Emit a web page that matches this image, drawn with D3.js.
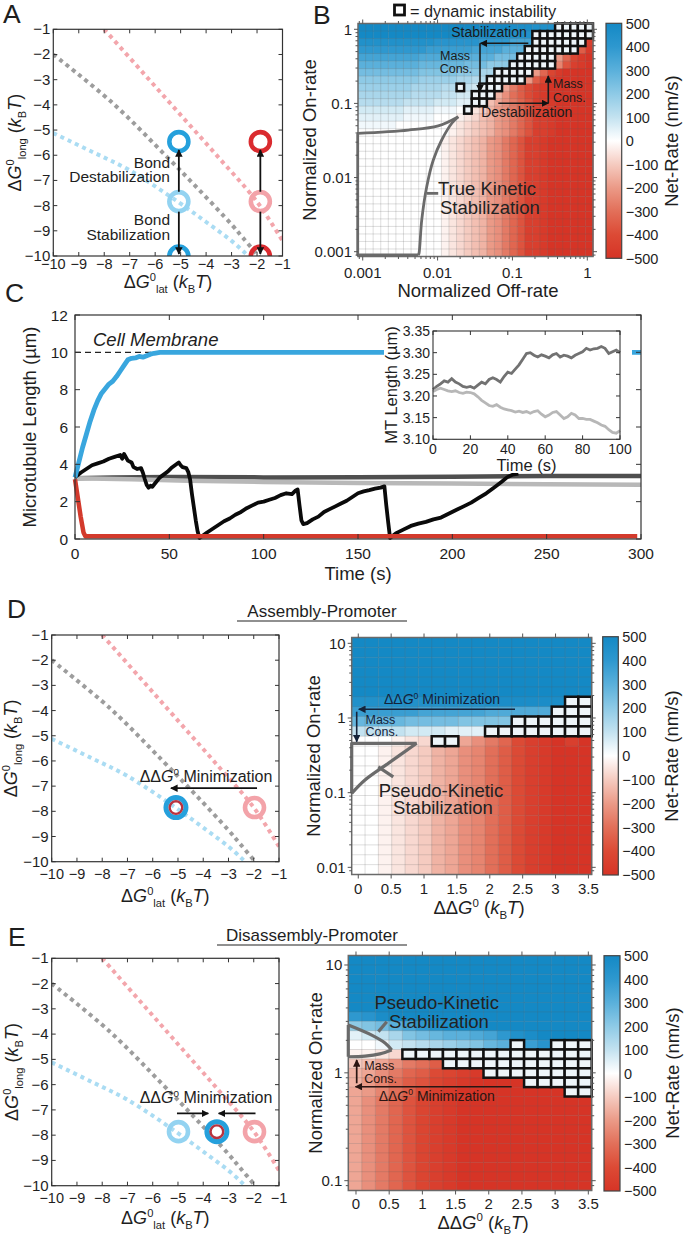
<!DOCTYPE html>
<html><head><meta charset="utf-8">
<script src="https://cdn.jsdelivr.net/npm/d3@7/dist/d3.min.js"></script>
<style>
html,body{margin:0;padding:0;background:#fff;}
svg{display:block;}
text{font-family:"Liberation Sans",Arial,Helvetica,sans-serif;}
</style></head><body>
<svg id="fig" width="684" height="1235" viewBox="0 0 684 1235"></svg>
<script>
// ================= DATA =================
// Energy-landscape panels (A, D-left, E-left)
const energyTicks=[-10,-9,-8,-7,-6,-5,-4,-3,-2,-1];
const redCurve=[[-8,-1],[-6.5,-2.7],[-5,-4.4],[-3.5,-6.1],[-2,-7.85],[-1,-9.4]];
const grayCurve=[[-10,-2],[-7.7,-3.9],[-5.6,-6.0],[-4.25,-7.4],[-3.0,-8.75],[-2.55,-9.28],[-1.9,-10.05]];
const blueCurve=[[-10,-5.12],[-8.5,-5.85],[-7,-6.6],[-5.1,-7.85],[-4,-8.65],[-3,-9.4],[-2.5,-9.85],[-2.3,-10.05]];
const circlesA=[{x:-5.07,y:-5.46,k:"blue"},{x:-5.07,y:-7.84,k:"lblue"},{x:-5.07,y:-10,k:"blue"},
                {x:-1.87,y:-5.46,k:"red"},{x:-1.87,y:-7.84,k:"lred"},{x:-1.87,y:-10,k:"red"}];
const arrowsA=[[-5.07,-7.45,-5.07,-5.79],[-5.07,-8.24,-5.07,-9.92],[-1.87,-7.45,-1.87,-5.79],[-1.87,-8.24,-1.87,-9.92]];
const circlesD=[{x:-1.97,y:-7.85,k:"lred"},{x:-5.08,y:-7.85,k:"both"}];
const arrowsD=[[-1.87,-7.08,-5.28,-7.08]];
const circlesE=[{x:-4.98,y:-7.86,k:"lblue"},{x:-3.46,y:-7.86,k:"both"},{x:-1.97,y:-7.86,k:"lred"}];
const arrowsE=[[-5.04,-7.14,-3.8,-7.14],[-1.93,-7.14,-3.39,-7.14]];

// Panel C
const cTimeTicks=[0,50,100,150,200,250,300];
const cLenTicks=[0,2,4,6,8,10,12];
const blueTrace=[[0,3.3],[2,4.1],[4,4.9],[6,5.6],[8,6.3],[10,6.9],[12,7.4],[14,7.8],[16,8.05],[18,8.3],[20,8.45],[22,8.7],[24,9.0],[26,9.3],[28,9.6],[30,9.68],[32,9.7],[34,9.78],[36,9.74],[38,9.82],[40,9.9],[42,9.95],[45,10],[300,10]];
const redTrace=[[0,3.2],[1.5,2.2],[3,1.2],[4.5,0.35],[5.5,0.15],[298,0.15]];
const blackTrace=[[0,3.3],[3,3.55],[6,3.75],[9,3.95],[12,4.05],[15,4.15],[18,4.3],[21,4.4],[24,4.5],[25,4.3],[26,4.55],[28,4.2],[30,4.1],[31,3.85],[33,3.75],[35,3.8],[36,3.55],[37,3.2],[38,2.9],[39,2.75],[40,2.85],[41,2.8],[43,3.05],[45,3.3],[47,3.45],[49,3.6],[51,3.8],[53,3.95],[55,4.1],[56,3.95],[57,3.85],[59,3.8],[60,3.6],[61,3.2],[62,2.4],[63,1.7],[64,1.0],[65,0.4],[66,0.05],[68,0.2],[70,0.35],[73,0.55],[76,0.75],[79,0.95],[82,1.1],[85,1.3],[88,1.45],[91,1.65],[94,1.8],[97,1.95],[100,2.0],[103,2.1],[106,2.2],[109,2.35],[112,2.45],[115,2.4],[117,2.6],[118,2.65],[119,1.8],[120,1.0],[121,0.8],[123,0.85],[126,1.05],[129,1.2],[132,1.45],[135,1.6],[138,1.75],[141,1.9],[144,2.05],[147,2.25],[150,2.45],[153,2.55],[156,2.62],[159,2.7],[162,2.75],[164,2.82],[165,1.8],[166,0.9],[167,0.05],[170,0.3],[174,0.5],[178,0.7],[182,0.82],[186,0.92],[190,1.05],[194,1.15],[198,1.35],[202,1.55],[206,1.75],[210,1.95],[214,2.2],[218,2.45],[222,2.75],[226,3.05],[229,3.3],[232,3.45],[235,3.5]];
const darkGrayTrace=[[0,3.25],[20,3.3],[50,3.32],[100,3.3],[150,3.31],[200,3.33],[250,3.38],[300,3.37]];
const lightGrayTrace=[[0,3.25],[30,3.2],[60,3.12],[100,3.06],[150,3.0],[200,2.97],[250,2.93],[300,2.9]];
const insetTimeTicks=[0,20,40,60,80,100];
const insetLenTicks=[3.10,3.15,3.20,3.25,3.30,3.35];
const insetTime=[0,2,4,6,8,10,12,14,16,18,20,22,24,26,28,30,32,34,36,38,40,42,44,46,48,50,52,54,56,58,60,62,64,66,68,70,72,74,76,78,80,82,84,86,88,90,92,94,96,98,100];
const insetDark=[3.215,3.222,3.228,3.235,3.232,3.240,3.232,3.228,3.222,3.220,3.222,3.218,3.225,3.232,3.228,3.238,3.242,3.238,3.232,3.245,3.255,3.252,3.262,3.272,3.285,3.298,3.300,3.294,3.290,3.295,3.292,3.288,3.295,3.298,3.290,3.294,3.292,3.288,3.294,3.298,3.302,3.310,3.306,3.309,3.310,3.314,3.310,3.298,3.302,3.306,3.300];
const insetLight=[3.210,3.215,3.218,3.215,3.212,3.210,3.212,3.208,3.206,3.209,3.208,3.205,3.198,3.190,3.184,3.178,3.176,3.180,3.174,3.170,3.168,3.166,3.163,3.165,3.162,3.164,3.160,3.164,3.166,3.158,3.152,3.156,3.162,3.164,3.156,3.148,3.152,3.160,3.156,3.148,3.148,3.146,3.146,3.142,3.138,3.133,3.130,3.122,3.116,3.114,3.120];

// Net-rate colour bar
const cbTicks=[500,400,300,200,100,0,-100,-200,-300,-400,-500];
const cbValues=[-500,-400,-300,-200,-100,-30,0,30,100,200,300,400,500];
const cbColors=["#d63426","#dc4a35","#e26f59","#eb9a87","#f5cbc0","#fcefec","#ffffff","#eef7fb","#c3e2f0","#8ecae6","#5ab0db","#2e98cf","#1489c5"];
// Heat-map cell codes: 'A'..'T' = +25..+500, 'a'..'t' = -25..-500, '0' = 0 (rows top -> bottom)
const hmBRows=[
"TTTTTTTTTT"+"TTTTTTTTTT"+"SSS"+"RRR"+"00000",
"TTTTTTTTTTTTTT"+"SSSSS"+"RRRR"+"00000000",
"RRRRRRRRRR"+"QQQQQQ"+"PPPP"+"NNN"+"0000000"+"r",
"PPPPPPPPP"+"OOOOOO"+"NNNN"+"LLL"+"0000000"+"ns",
"NNNNNNNN"+"MMMMMM"+"LLLL"+"JJJ"+"00000"+"hmqst",
"LLLLLLLL"+"KKKKKK"+"JJJ"+"HHH"+"000000"+"jorst",
"JJJJJJJJ"+"IIIII"+"HHH"+"FF"+"00000"+"hmqstttt",
"HHHHHHHH"+"GGGGG"+"FF"+"EE"+"00000"+"hnqsttttt",
"GGGGGGG"+"FFFF"+"EE"+"0"+"DC"+"000"+"gknprstttttt",
"FFFFFFF"+"EEEE"+"DD"+"CC"+"000"+"filnprstttttt",
"EEEEEE"+"DDDD"+"CCC"+"BB"+"00"+"egikmorrsttttt",
"CCCCCC"+"BBBB"+"AAA"+"0"+"0"+"bdfhikmorrsttttt",
"BBBBBB"+"AAAA"+"000"+"abcefhikmorrsttttt",
"AAAAA"+"0000000"+"abcdefhikmorrsttttt",
"000000000000"+"abcdefhikmorrsttttt",
"00000000000"+"abcdefhikmorrs"+"tttttt",
"00000000000"+"abcdefhikmorrs"+"tttttt",
"00000000000"+"abcdefhikmorrs"+"tttttt",
"00000000000"+"abcdefhikmorrs"+"tttttt",
"00000000000"+"abcdefhikmorrs"+"tttttt",
"00000000000"+"abcdefhikmorrs"+"tttttt",
"00000000000"+"abcdefhikmorrs"+"tttttt",
"00000000000"+"abcdefhikmorrs"+"tttttt",
"00000000000"+"abcdefhikmorrs"+"tttttt",
"00000000000"+"abcdefhikmorrs"+"tttttt",
"00000000000"+"abcdefhikmorrs"+"tttttt",
"00000000000"+"abcdefhikmorrs"+"tttttt",
"00000000000"+"abcdefhikmorrs"+"tttttt",
"00000000000"+"abcdefhikmorrs"+"tttttt",
"00000000000"+"abcdefhikmorrs"+"tttttt",
"00000000000"+"abcdefhikmorrs"+"tttttt"];
const diB=[[0,26,30],[1,23,30],[2,23,29],[3,22,28],[4,21,25],[5,20,25],[6,18,22],[7,17,21],[8,16,18],[8,13,13],[9,15,17],[10,15,16],[11,14,14]];
const hmDRows=[
"TTTTTTTTT"+"TTTTTTTTT","TTTTTTTTT"+"TTTTTTTTT","TTTTTTTTT"+"TTTTTTTTT",
"TTTTTTTTT"+"TTTTTTTTT","TTTTTTTTT"+"TTTTTTTTT","TTTTTTTTT"+"TTTTTTTTT",
"RRRRRRRRRR"+"SSSSSS"+"00",
"OOOOO"+"NNNNN"+"MMMMM"+"000",
"KKKK"+"JJJJ"+"IIII"+"000000",
"DDDD"+"CCC"+"BBB"+"00000000",
"000abc"+"00"+"gikmprstrt",
"00abcdfgijlnprsttt","00abcdfgijlnprsttt","00abcdfgijlnprsttt","00abcdfgijlnprsttt",
"00abcdfgijlnprsttt","00abcdfgijlnprsttt","00abcdfgijlnprsttt","00abcdfgijlnprsttt",
"00abcdfgijlnprsttt","00abcdfgijlnprsttt","00abcdfgijlnprsttt","00abcdfgijlnprsttt",
"00abcdfgijlnprsttt"];
const diD=[[6,16,17],[7,15,17],[8,12,17],[9,10,17],[10,6,7]];
const hmERows=[
"TTTTTTTTT"+"TTTTTTTTT","TTTTTTTTT"+"TTTTTTTTT","TTTTTTTTT"+"TTTTTTTTT",
"TTTTTTTTT"+"TTTTTTTTT","TTTTTTTTT"+"TTTTTTTTT","TTTTTTTTT"+"TTTTTTTTT",
"PQS"+"TTTTTTTTTTTTTTT",
"HIJLNPRS"+"TTTTTTTTTT",
"BCDFIJKLLMNPRS"+"TTTT",
"00ACDEFGHIKL"+"0"+"OQ"+"000",
"aabc"+"00000000000000",
"degikln"+"00000000000",
"fgikmnpqrs"+"00000000",
"fhjlnoqrstttt"+"00000",
"ghjlnprs"+"tttttttt"+"00",
"gikmoqrs"+"tttttttttt","gikmoqrs"+"tttttttttt","gikmoqrs"+"tttttttttt",
"gikmoqrs"+"tttttttttt","gikmoqrs"+"tttttttttt","gikmoqrs"+"tttttttttt",
"gikmoqrs"+"tttttttttt","gikmoqrs"+"tttttttttt","gikmoqrs"+"tttttttttt",
"gikmoqrs"+"tttttttttt"];
const diE=[[9,12,12],[9,15,17],[10,4,17],[11,7,17],[12,10,17],[13,13,17],[14,16,17]];
// Stabilization outlines (x, on-rate)
const tksUpper=[[0.000857,0.0395],[0.00407,0.0437],[0.0102,0.0497],[0.0189,0.0661]];
const tksLower=[[0.0189,0.0661],[0.0155,0.054],[0.01135,0.0321],[0.00877,0.01726],[0.00716,0.00753],[0.00614,0.00267],[0.00565,0.000951],[0.00553,0.000902]];
const tksEdge=[[0.00553,0.000902],[0.000857,0.000902],[0.000857,0.0395]];
const tksLeader=[[0.00716,0.00612],[0.0102,0.00612]];
const pksDEdge=[[-0.1,0.098],[-0.1,0.458],[0.888,0.458]];
const pksDDiag=[[0.888,0.458],[0.456,0.247],[0.102,0.148],[-0.1,0.098]];
const pksDLeader=[[0.304,0.222],[0.532,0.163]];
const pksEUpper=[[-0.116,2.78],[0.237,2.24],[0.437,1.89],[0.538,1.63]];
const pksELower=[[0.538,1.63],[0.36,1.50],[0.136,1.43],[-0.116,1.41]];
const pksEEdge=[[-0.116,1.41],[-0.116,2.78]];
const pksELeader=[[0.337,2.41],[0.464,2.98]];
const ddgTicks=[0,0.5,1,1.5,2,2.5,3,3.5];

// ================= DRAWING =================
const svg=d3.select("#fig");
const defs=svg.append("defs");
function marker(id,col){
  defs.append("marker").attr("id",id).attr("viewBox","0 0 10 10").attr("refX",9).attr("refY",5)
   .attr("markerWidth",7.5).attr("markerHeight",7.5).attr("markerUnits","userSpaceOnUse").attr("orient","auto")
   .append("path").attr("d","M0,0L10,5L0,10Z").attr("fill",col);
}
marker("ah","#111"); marker("ahn","#14233a"); marker("ahr","#2a1512");
const color=d3.scaleLinear().domain(cbValues).range(cbColors).clamp(true);
function dec(ch){ if(ch==="0")return 0; const k=ch.charCodeAt(0); if(k>=65&&k<=90) return (k-64)*25; return -(k-96)*25; }
const minus=v=>v<0?"\u2212"+(-v):String(v);
function rich(t,parts,fs){
  let cur=0;
  parts.forEach(p=>{
    const [s,type]=Array.isArray(p)?p:[p,"n"];
    const ts=t.append("tspan").text(s);
    let target=0,size=fs;
    if(type==="sup"){target=-0.38*fs;size=fs*0.62;}
    if(type==="sub"){target=0.28*fs;size=fs*0.62;}
    if(type==="i") ts.attr("font-style","italic");
    ts.attr("font-size",size);
    if(target!==cur) ts.attr("dy",target-cur);
    cur=target;
  });
}
function txt(g,x,y,s,o={}){
  const fs=o.fs||15;
  const t=g.append("text").attr("x",x).attr("y",y).attr("font-size",fs).attr("fill",o.fill||"#1e1e1e")
   .attr("text-anchor",o.anchor||"start");
  if(o.italic) t.attr("font-style","italic");
  if(o.rot) t.attr("transform",`rotate(-90,${x},${y})`);
  if(Array.isArray(s)) rich(t,s,fs); else t.text(s);
  return t;
}
function arrow(g,x1,y1,x2,y2,col,mk,w){
  g.append("line").attr("x1",x1).attr("y1",y1).attr("x2",x2).attr("y2",y2)
   .attr("stroke",col||"#111").attr("stroke-width",w||1.7).attr("marker-end",`url(#${mk||"ah"})`);
}
const labG=["\u0394",["G","i"],["0","sup"]];
const kBT=[" (",["k","i"],["B","sub"],["T","i"],")"];
const ylabE=[...labG,["long","sub"],...kBT];
const xlabE=[...labG,["lat","sub"],...kBT];
const ddgLab=["\u0394\u0394",["G","i"],["0","sup"],...kBT];
const minLab=["\u0394\u0394",["G","i"],["0","sup"]," Minimization"];

const ringCol={blue:"#25a0dc",lblue:"#93d3f1",red:"#da2b2f",lred:"#f3a3a9"};
function energyPanel(o){
  const x=d3.scaleLinear().domain([-10,-1]).range([o.x0,o.x1]);
  const y=d3.scaleLinear().domain([-1,-10]).range([o.y0,o.y1]);
  const g=svg.append("g");
  defs.append("clipPath").attr("id","cp"+o.id).append("rect").attr("x",o.x0).attr("y",o.y0).attr("width",o.x1-o.x0).attr("height",o.y1-o.y0);
  const pg=g.append("g").attr("clip-path",`url(#cp${o.id})`);
  const ln=d3.line().x(d=>x(d[0])).y(d=>y(d[1])).curve(d3.curveCatmullRom);
  [[redCurve,"#f3a6ac"],[grayCurve,"#9d9d9d"],[blueCurve,"#aadcf3"]].forEach(([d,c])=>
    pg.append("path").attr("d",ln(d)).attr("fill","none").attr("stroke",c).attr("stroke-width",4).attr("stroke-dasharray","4 4"));
  o.circles.forEach(c=>{
    if(c.k==="both"){
      pg.append("circle").attr("cx",x(c.x)).attr("cy",y(c.y)).attr("r",10).attr("fill","none").attr("stroke",ringCol.blue).attr("stroke-width",5);
      pg.append("circle").attr("cx",x(c.x)).attr("cy",y(c.y)).attr("r",6.3).attr("fill","none").attr("stroke","#b9333f").attr("stroke-width",2.4);
    } else {
      pg.append("circle").attr("cx",x(c.x)).attr("cy",y(c.y)).attr("r",9.5).attr("fill","none").attr("stroke",ringCol[c.k]).attr("stroke-width",4.6);
    }
  });
  o.arrows.forEach(a=>arrow(g,x(a[0]),y(a[1]),x(a[2]),y(a[3]),"#111","ah",1.8));
  g.append("rect").attr("x",o.x0).attr("y",o.y0).attr("width",o.x1-o.x0).attr("height",o.y1-o.y0)
   .attr("fill","none").attr("stroke","#333").attr("stroke-width",1.2);
  energyTicks.forEach(v=>{
    const X=x(v),Y=y(v);
    g.append("line").attr("x1",X).attr("x2",X).attr("y1",o.y1).attr("y2",o.y1-4).attr("stroke","#333");
    g.append("line").attr("x1",X).attr("x2",X).attr("y1",o.y0).attr("y2",o.y0+4).attr("stroke","#333");
    g.append("line").attr("y1",Y).attr("y2",Y).attr("x1",o.x0).attr("x2",o.x0+4).attr("stroke","#333");
    g.append("line").attr("y1",Y).attr("y2",Y).attr("x1",o.x1).attr("x2",o.x1-4).attr("stroke","#333");
    txt(g,X,o.xTickY,minus(v),{anchor:"middle",fs:14.5});
    txt(g,o.x0-3,Y+5,minus(v),{anchor:"end",fs:15});
  });
  txt(g,(o.x0+o.x1)/2,o.xLabY,xlabE,{fs:18,anchor:"middle"});
  txt(g,o.yLabX,(o.y0+o.y1)/2,ylabE,{fs:18,anchor:"middle",rot:true});
  return {x,y,g};
}

function heatPanel(o){
  const g=svg.append("g");
  const nR=o.rows.length,nC=o.rows[0].length;
  const bx=d3.scaleBand().domain(d3.range(nC)).range([o.x0,o.x1]);
  const by=d3.scaleBand().domain(d3.range(nR)).range([o.y0,o.y1]);
  const cells=[];
  o.rows.forEach((s,r)=>{for(let c=0;c<nC;c++)cells.push({r,c,v:dec(s[c]||"0")});});
  g.append("g").selectAll("rect").data(cells).join("rect")
   .attr("x",d=>bx(d.c)).attr("y",d=>by(d.r)).attr("width",bx.bandwidth()+0.4).attr("height",by.bandwidth()+0.4)
   .attr("fill",d=>color(d.v));
  const gl=g.append("g").attr("stroke","rgba(95,95,95,0.3)").attr("stroke-width",0.7);
  d3.range(1,nC).forEach(c=>gl.append("line").attr("x1",bx(c)).attr("x2",bx(c)).attr("y1",o.y0).attr("y2",o.y1));
  d3.range(1,nR).forEach(r=>gl.append("line").attr("y1",by(r)).attr("y2",by(r)).attr("x1",o.x0).attr("x2",o.x1));
  const di=[]; o.di.forEach(([r,c0,c1])=>{for(let c=c0;c<=c1;c++)di.push({r,c});});
  g.append("g").selectAll("rect").data(di).join("rect")
   .attr("x",d=>bx(d.c)).attr("y",d=>by(d.r)).attr("width",bx.bandwidth()).attr("height",by.bandwidth())
   .attr("fill","#eef5f9").attr("stroke","#111").attr("stroke-width",2.5);
  return g;
}
function heatAxes(o){
  const g=svg.append("g");
  g.append("rect").attr("x",o.x0).attr("y",o.y0).attr("width",o.x1-o.x0).attr("height",o.y1-o.y0)
   .attr("fill","none").attr("stroke","#6a6a6a").attr("stroke-width",1.5);
  const tk=(x1,y1,x2,y2)=>g.append("line").attr("x1",x1).attr("y1",y1).attr("x2",x2).attr("y2",y2).attr("stroke","#555").attr("stroke-width",1);
  o.xTicks.forEach(t=>{const X=o.xs(t.v); tk(X,o.y1,X,o.y1+4); tk(X,o.y0,X,o.y0-4); txt(g,X,o.y1+o.xLabOff,t.l,{anchor:"middle"});});
  (o.xMinor||[]).forEach(v=>{const X=o.xs(v); tk(X,o.y1,X,o.y1+2.5); tk(X,o.y0,X,o.y0-2.5);});
  o.yTicks.forEach(t=>{const Y=o.ys(t.v); tk(o.x0,Y,o.x0-4,Y); tk(o.x1,Y,o.x1+4,Y); txt(g,o.x0-6,Y+5.3,t.l,{anchor:"end"});});
  (o.yMinor||[]).forEach(v=>{const Y=o.ys(v); tk(o.x0,Y,o.x0-2.5,Y); tk(o.x1,Y,o.x1+2.5,Y);});
  return g;
}
function minors(lo,hi){const out=[];for(let d=Math.floor(Math.log10(lo));d<=Math.ceil(Math.log10(hi));d++){for(let m=2;m<=9;m++){const v=m*Math.pow(10,d);if(v>=lo&&v<=hi)out.push(v);}}return out;}
let gradN=0;
function colorbar(x0,x1,y0,y1,labX,labY){
  const id="cbg"+(gradN++);
  const lg=defs.append("linearGradient").attr("id",id).attr("x1",0).attr("y1",1).attr("x2",0).attr("y2",0);
  cbValues.forEach((v,i)=>lg.append("stop").attr("offset",(v+500)/1000).attr("stop-color",cbColors[i]));
  const s=d3.scaleLinear().domain([-500,500]).range([y1,y0]);
  const g=svg.append("g");
  g.append("rect").attr("x",x0).attr("y",y0).attr("width",x1-x0).attr("height",y1-y0).attr("fill",`url(#${id})`).attr("stroke","#444").attr("stroke-width",1.2);
  cbTicks.forEach(v=>txt(g,x1+4,s(v)+5.3,minus(v),{fs:14.5}));
  txt(g,labX,labY,"Net-Rate (nm/s)",{fs:18.5,anchor:"middle",rot:true});
}

// ---------- Panel letters & titles ----------
const L=svg.append("g");
[["A",3,23],["B",313,24],["C",5,302],["D",7,618],["E",8,946]].forEach(([s,x,y])=>txt(L,x,y,s,{fs:26.5}));
txt(L,322,617,"Assembly-Promoter",{fs:17,anchor:"middle"});
L.append("line").attr("x1",237).attr("x2",407).attr("y1",621).attr("y2",621).attr("stroke","#222").attr("stroke-width",1.2);
txt(L,312,941,"Disassembly-Promoter",{fs:17,anchor:"middle"});
L.append("line").attr("x1",217).attr("x2",407).attr("y1",945).attr("y2",945).attr("stroke","#222").attr("stroke-width",1.2);

// ---------- Panel A ----------
const pA=energyPanel({id:"A",x0:53.3,x1:282.5,y0:29.3,y1:256,xTickY:269,xLabY:288,yLabX:21,circles:circlesA,arrows:arrowsA});
txt(pA.g,170,167.5,"Bond",{fs:15.5,anchor:"end"});
txt(pA.g,170,182,"Destabilization",{fs:15.5,anchor:"end"});
txt(pA.g,170,224.5,"Bond",{fs:15.5,anchor:"end"});
txt(pA.g,170,239.5,"Stabilization",{fs:15.5,anchor:"end"});

// ---------- Panel D-left / E-left ----------
const pD=energyPanel({id:"D",x0:51.7,x1:279,y0:635,y1:861.7,xTickY:879,xLabY:902,yLabX:17,circles:circlesD,arrows:arrowsD});
txt(pD.g,206,781.5,minLab,{fs:16,anchor:"middle"});
const pE=energyPanel({id:"E",x0:51.7,x1:279,y0:958.3,y1:1185.7,xTickY:1203,xLabY:1224,yLabX:18,circles:circlesE,arrows:arrowsE});
txt(pE.g,206,1103,minLab,{fs:16,anchor:"middle"});

// ---------- Panel B ----------
const bB={x0:358,x1:593,y0:23.5,y1:256.5};
const xsB=d3.scaleLog().domain([Math.pow(10,-3.063),Math.pow(10,0.076)]).range([bB.x0,bB.x1]);
const ysB=d3.scaleLog().domain([Math.pow(10,-3.065),Math.pow(10,0.078)]).range([bB.y1,bB.y0]);
const gB=heatPanel({...bB,rows:hmBRows,di:diB});
const lnB=d3.line().x(d=>xsB(d[0])).y(d=>ysB(d[1]));
const outl=(g,d,curve)=>g.append("path").attr("d",(curve?lnB.curve(d3.curveCatmullRom):lnB.curve(d3.curveLinear))(d)).attr("fill","none").attr("stroke","#6b6b6b").attr("stroke-width",2.8).attr("stroke-linejoin","round");
outl(gB,tksUpper,true); outl(gB,tksLower,true); outl(gB,tksEdge,false); outl(gB,tksLeader,false);
txt(gB,438,195,"True Kinetic",{fs:18.5,fill:"#222"});
txt(gB,440,213.5,"Stabilization",{fs:18.5,fill:"#222"});
txt(gB,489,36.5,"Stabilization",{fs:14,anchor:"middle",fill:"#1a1a1a"});
arrow(gB,528.3,43.3,480.5,43.3,"#1a1a1a","ah",1.6);
gB.append("line").attr("x1",480).attr("y1",43.3).attr("x2",480).attr("y2",91.7).attr("stroke","#1a1a1a").attr("stroke-width",1.6).attr("marker-end","url(#ah)");
txt(gB,455,60,"Mass",{fs:12.5,anchor:"middle",fill:"#1a1a1a"});
txt(gB,456,73.3,"Cons.",{fs:12.5,anchor:"middle",fill:"#1a1a1a"});
arrow(gB,498.3,103.3,548.3,103.3,"#1a1a1a","ah",1.6);
arrow(gB,548.3,103.3,548.3,76,"#1a1a1a","ah",1.6);
txt(gB,526.7,117.3,"Destabilization",{fs:14,anchor:"middle",fill:"#1a1a1a"});
txt(gB,553,88.3,"Mass",{fs:12.5,fill:"#1a1a1a"});
txt(gB,553,101.7,"Cons.",{fs:12.5,fill:"#1a1a1a"});
const decTicks=[{v:0.001,l:"0.001"},{v:0.01,l:"0.01"},{v:0.1,l:"0.1"},{v:1,l:"1"}];
heatAxes({...bB,xs:xsB,ys:ysB,xTicks:decTicks,yTicks:decTicks,xMinor:minors(xsB.domain()[0],xsB.domain()[1]),yMinor:minors(ysB.domain()[0],ysB.domain()[1]),xLabOff:21});
txt(svg,478,297,"Normalized Off-rate",{fs:18.5,anchor:"middle"});
txt(svg,316,140,"Normalized On-rate",{fs:18.5,anchor:"middle",rot:true});
colorbar(606,621.7,23.3,258.3,678,141);
svg.append("rect").attr("x",394.5).attr("y",5).attr("width",10).attr("height",10).attr("fill","#fff").attr("stroke","#111").attr("stroke-width",2.8);
txt(svg,410,16.5,"= dynamic instability",{fs:16.3});

// ---------- Panel C ----------
const cx=d3.scaleLinear().domain([0,300]).range([75,641]);
const cy=d3.scaleLinear().domain([0,12]).range([539,315]);
const gC=svg.append("g");
const lnC=d3.line().x(d=>cx(d[0])).y(d=>cy(d[1]));
gC.append("line").attr("x1",cx(0)).attr("x2",cx(300)).attr("y1",cy(10)).attr("y2",cy(10)).attr("stroke","#222").attr("stroke-width",1.2).attr("stroke-dasharray","6 4");
[[darkGrayTrace,"#4f4f4f",4.5],[lightGrayTrace,"#b8b8b8",4.5],[blackTrace,"#0a0a0a",3.8],[redTrace,"#d33a2c",4.5],[blueTrace,"#39a6de",4.8]]
 .forEach(([d,c,w])=>gC.append("path").attr("d",lnC(d)).attr("fill","none").attr("stroke",c).attr("stroke-width",w).attr("stroke-linejoin","round"));
txt(gC,93,345.5,"Cell Membrane",{fs:18.5,italic:true});
// inset
gC.append("rect").attr("x",384).attr("y",321).attr("width",248).attr("height",152).attr("fill","#fff");
const ix=d3.scaleLinear().domain([0,100]).range([433,620]);
const iy=d3.scaleLinear().domain([3.10,3.35]).range([439.3,331]);
const lnI=d3.line().x((d,i)=>ix(insetTime[i])).y(d=>iy(d));
gC.append("path").attr("d",lnI(insetDark)).attr("fill","none").attr("stroke","#727272").attr("stroke-width",2.8);
gC.append("path").attr("d",lnI(insetLight)).attr("fill","none").attr("stroke","#b7b7b7").attr("stroke-width",2.8);
gC.append("rect").attr("x",433).attr("y",331).attr("width",187).attr("height",108.3).attr("fill","none").attr("stroke","#333").attr("stroke-width",1.1);
insetTimeTicks.forEach(v=>{const X=ix(v);
  gC.append("line").attr("x1",X).attr("x2",X).attr("y1",439.3).attr("y2",435.3).attr("stroke","#333");
  gC.append("line").attr("x1",X).attr("x2",X).attr("y1",331).attr("y2",335).attr("stroke","#333");
  txt(gC,X,453.5,String(v),{fs:14,anchor:"middle"});});
insetLenTicks.forEach(v=>{const Y=iy(v);
  gC.append("line").attr("x1",433).attr("x2",437).attr("y1",Y).attr("y2",Y).attr("stroke","#333");
  gC.append("line").attr("x1",620).attr("x2",616).attr("y1",Y).attr("y2",Y).attr("stroke","#333");
  txt(gC,430,Y+5,d3.format(".2f")(v),{fs:14,anchor:"end"});});
txt(gC,526.5,470.5,"Time (s)",{fs:16.5,anchor:"middle"});
txt(gC,397,385,"MT Length (\u00b5m)",{fs:16.5,anchor:"middle",rot:true});
// main frame & ticks
gC.append("rect").attr("x",75).attr("y",315).attr("width",566).attr("height",224).attr("fill","none").attr("stroke","#333").attr("stroke-width",1.2);
cTimeTicks.forEach(v=>{const X=cx(v);
  gC.append("line").attr("x1",X).attr("x2",X).attr("y1",539).attr("y2",534).attr("stroke","#333");
  gC.append("line").attr("x1",X).attr("x2",X).attr("y1",315).attr("y2",320).attr("stroke","#333");
  txt(gC,X,559,String(v),{fs:15.5,anchor:"middle"});});
cLenTicks.forEach(v=>{const Y=cy(v);
  gC.append("line").attr("x1",75).attr("x2",80).attr("y1",Y).attr("y2",Y).attr("stroke","#333");
  gC.append("line").attr("x1",641).attr("x2",636).attr("y1",Y).attr("y2",Y).attr("stroke","#333");
  txt(gC,68,Y+5.5,String(v),{fs:15.5,anchor:"end"});});
txt(gC,358,580,"Time (s)",{fs:18.5,anchor:"middle"});
txt(gC,36,427,"Microtubule Length (\u00b5m)",{fs:18.5,anchor:"middle",rot:true});

// ---------- Panel D right ----------
const bD={x0:351.7,x1:591.7,y0:637.5,y1:874.5};
const xsD=d3.scaleLinear().domain([-0.1,3.55]).range([bD.x0,bD.x1]);
const ysD=d3.scaleLog().domain([Math.pow(10,-2.096),Math.pow(10,1.078)]).range([bD.y1,bD.y0]);
const gD=heatPanel({...bD,rows:hmDRows,di:diD});
const lnD=d3.line().x(d=>xsD(d[0])).y(d=>ysD(d[1]));
const pks=(g,ln,d,curve)=>g.append("path").attr("d",(curve?ln.curve(d3.curveCatmullRom):ln.curve(d3.curveLinear))(d)).attr("fill","none").attr("stroke","#6b6b6b").attr("stroke-width",3.2).attr("stroke-linejoin","round");
pks(gD,lnD,pksDEdge,false); pks(gD,lnD,pksDDiag,true); pks(gD,lnD,pksDLeader,false);
txt(gD,441,796.5,"Pseudo-Kinetic",{fs:18.5,anchor:"middle",fill:"#222"});
txt(gD,443,814,"Stabilization",{fs:18.5,anchor:"middle",fill:"#222"});
txt(gD,442,704,minLab,{fs:14,anchor:"middle",fill:"#14233a"});
arrow(gD,515,709.3,358.8,709.3,"#14233a","ahn",1.6);
arrow(gD,356.7,711.7,356.7,741.7,"#14233a","ahn",1.6);
txt(gD,365.5,723.5,"Mass",{fs:12.5,fill:"#14233a"});
txt(gD,365.5,736,"Cons.",{fs:12.5,fill:"#14233a"});
const ddgT=ddgTicks.map(v=>({v,l:String(v)}));
heatAxes({...bD,xs:xsD,ys:ysD,xTicks:ddgT,yTicks:[{v:0.01,l:"0.01"},{v:0.1,l:"0.1"},{v:1,l:"1"},{v:10,l:"10"}],yMinor:minors(ysD.domain()[0],ysD.domain()[1]),xLabOff:19.5});
txt(svg,479,914,ddgLab,{fs:18.5,anchor:"middle"});
txt(svg,320,756,"Normalized On-rate",{fs:18.5,anchor:"middle",rot:true});
colorbar(602.7,618.3,636.7,875,678,756);

// ---------- Panel E right ----------
const bE={x0:348.3,x1:591.7,y0:955.5,y1:1190.5};
const xsE=d3.scaleLinear().domain([-0.116,3.551]).range([bE.x0,bE.x1]);
const ysE=d3.scaleLog().domain([Math.pow(10,-1.091),Math.pow(10,1.088)]).range([bE.y1,bE.y0]);
const gE=heatPanel({...bE,rows:hmERows,di:diE});
const lnE=d3.line().x(d=>xsE(d[0])).y(d=>ysE(d[1]));
pks(gE,lnE,pksEUpper,true); pks(gE,lnE,pksELower,true); pks(gE,lnE,pksEEdge,false); pks(gE,lnE,pksELeader,false);
txt(gE,436.7,1009.3,"Pseudo-Kinetic",{fs:18.5,anchor:"middle",fill:"#222"});
txt(gE,439,1028,"Stabilization",{fs:18.5,anchor:"middle",fill:"#222"});
arrow(gE,356.7,1083.3,356.7,1060,"#2a1512","ahr",1.7);
arrow(gE,511.7,1086.7,355.5,1086.7,"#2a1512","ahr",1.6);
txt(gE,364.3,1070.3,"Mass",{fs:12.5,fill:"#2a1512"});
txt(gE,364.3,1082.8,"Cons.",{fs:12.5,fill:"#2a1512"});
txt(gE,436.7,1100.7,minLab,{fs:14,anchor:"middle",fill:"#2a1512"});
heatAxes({...bE,xs:xsE,ys:ysE,xTicks:ddgT,yTicks:[{v:0.1,l:"0.1"},{v:1,l:"1"},{v:10,l:"10"}],yMinor:minors(ysE.domain()[0],ysE.domain()[1]),xLabOff:18});
txt(svg,483,1228.5,ddgLab,{fs:18.5,anchor:"middle"});
txt(svg,322,1073,"Normalized On-rate",{fs:18.5,anchor:"middle",rot:true});
colorbar(604,620,955.7,1191,679,1073);
</script></body></html>
